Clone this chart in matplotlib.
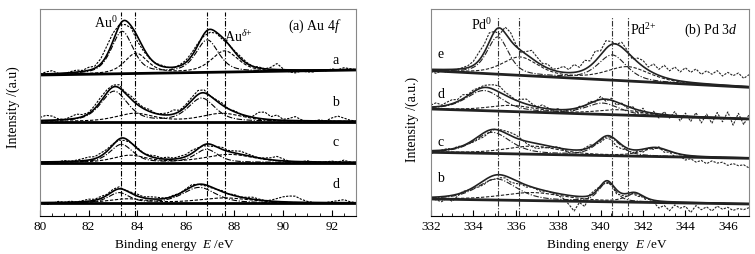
import numpy as np
import matplotlib
matplotlib.use("Agg")
import matplotlib.pyplot as plt
from matplotlib.ticker import MultipleLocator

plt.rcParams['font.family'] = ['Liberation Serif', 'DejaVu Serif']
plt.rcParams['mathtext.fontset'] = 'custom'
plt.rcParams['mathtext.rm'] = 'Liberation Serif'
plt.rcParams['mathtext.it'] = 'Liberation Serif:italic'
plt.rcParams['mathtext.bf'] = 'Liberation Serif:bold'

# ---------------- (a) Au 4f ----------------
au_labels = ['a', 'b', 'c', 'd']
au_label_y = [157, 115, 74, 32]
au_base_lo = [141, 94.5, 53.5, 13]     # background at 80 eV
au_base_hi = [146, 94.5, 53.5, 13]     # background at 93 eV
# Au0 doublet (dash-dot components)
au0_pos = [[83.38, 86.88], [83.05, 86.65], [83.35, 86.85], [83.25, 86.55]]
au0_height = [[42, 32], [30, 23], [18, 13], [10, 15.5]]
au0_fwhm = [[1.05, 1.1], [1.3, 1.3], [1.1, 1.1], [1.0, 1.6]]
# Au delta+ doublet (dashed components)
audp_pos = [[83.95, 87.6], [83.9, 87.5], [83.7, 87.8], [83.6, 87.6]]
audp_height = [[20, 21], [8, 8], [7, 8], [4, 5]]
audp_fwhm = [[1.1, 1.3], [1.8, 2.0], [1.6, 2.4], [1.8, 2.5]]
au_lines = [83.35, 83.9, 86.85, 87.6]

# raw spectra, deviation from the fit, 80 .. 93 eV every 0.25 eV
au_raw_e = np.arange(80, 93.001, 0.25)
au_resid = [
    [0, 2, 3, 0, -1, 1, 2, 1, 3, 2, 5, 9, 8, 1, -4, -2, -5, -3, -1, 0, 1, 0, -1, 1, 2, 3, 2,
     -2, -3, -1, -2, 0, 1, 2, 1, 0, 1, 0, 2, 6, 1, -2, -3, -1, -2, -2, 0, -1, 1, 0, 2, 1, 0],
    [3, 5, 4, 1, 0, 2, 4, 2, 1, 3, 4, 3, 2, 3, 1, 3, 2, 1, 2, 0, 1, 2, 4, 1, 2, 3, 4,
     3, 0, 1, 2, 0, 1, 0, -1, 1, 6, 7, 3, 5, 1, 2, 4, 1, -1, 0, 1, 0, 3, 5, 3, 1, 0],
    [0, -2, -1, 0, 1, 0, 1, 2, 3, 2, 3, 2, 1, -1, -2, 0, 1, 0, 1, 2, 1, 2, 1, 2, 2, 3, 1,
     -1, -2, 0, 2, 1, 2, 3, 2, 1, 0, 1, 2, 4, 2, 0, -1, 0, 1, 0, -1, 0, 1, 0, 2, 0, -2],
    [0, -2, -1, 1, 0, 1, 0, 1, 2, 1, 2, 1, 2, 2, 0, 1, 2, 1, 2, 2, 1, 0, 1, 0, 1, 2, 0,
     -1, -1, 0, 1, 0, 1, 0, 1, 2, 1, 0, 1, 3, 5, 6, 6, 3, 1, 0, -1, 0, 1, 2, 3, 1, 0],
]

# ---------------- (b) Pd 3d ----------------
pd_labels = ['e', 'd', 'c', 'b']
pd_label_y = [162, 123, 75, 39]
pd_base_lo = [145.3, 107, 63.7, 17]    # background at 332 eV
pd_base_hi = [128.7, 97, 57.7, 12]     # background at 347 eV
pd0_pos = [[335.15, 340.55], [334.5, 340.1], [334.9, 340.35], [335.1, 340.3]]
pd0_height = [[37, 25], [20, 11], [21, 18.5], [21, 19]]
pd0_fwhm = [[1.2, 1.6], [2.0, 1.8], [2.0, 1.3], [2.2, 0.9]]
pd2_pos = [[336.2, 341.3], [335.8, 340.9], [336.8, 342.6], [336.8, 341.6]]
pd2_height = [[18, 14], [6, 5], [8, 8], [8, 8]]
pd2_fwhm = [[2.0, 2.4], [2.6, 2.5], [3.0, 1.6], [3.5, 1.0]]
pd_lines = [335.15, 336.15, 340.55, 341.3]

pd_raw_e = np.arange(332, 347.001, 0.25)
pd_resid = [
    [-2, -4, -1, -3, -1, 0, 1, 2, 4, 8, 8, 9, 0, -6, 6, 8, 2, -2, 3, 8, 5, 2, 4, 1, 3, 6, 3, 8, 4, 9, 5,
     10, 4, 8, 3, 0, 5, 2, -2, 4, 6, 3, 9, 6, 12, 8, 13, 9, 14, 10, 14, 9, 13, 10, 14, 9, 13, 10, 13, 8, 12],
    [2, 4, 1, 3, 4, 2, 4, 1, 2, 1, 2, 3, 5, 6, 3, 2, 0, 3, 5, 2, 0, 3, 1, -1, 1, -2, 0, -2, 1, -1, 2,
     -1, 3, -2, 2, -3, 1, -2, 2, -3, 3, -4, 2, -4, 3, -3, 4, -5, 3, -5, 4, -6, 3, -6, 5, -4, 6, -7, 5, -6, 4],
    [-3, -1, 0, 1, 0, 1, 0, -1, -2, -3, -4, -2, 0, 1, 2, 3, 3, 1, -2, -4, -5, -3, -2, 0, 1, -1, -3, -5, -2, 1, 2,
     -1, -3, -2, -3, -6, -4, -2, -3, -1, -3, 0, -2, 1, -3, -1, -4, -2, -5, -3, -6, -4, -7, -4, -6, -5, -8, -6, -8, -7, -10],
    [-1, -3, -5, -2, -6, -2, 1, 0, -1, -3, -4, -3, -4, -3, -2, -4, -3, -1, -2, 0, -1, -2, 0, -1, -2, -4, -9, -15, -6, -10, 1,
     2, 0, -2, -1, -4, -2, -3, -1, -3, -1, -4, -2, -7, -4, -9, -3, -6, -4, -10, -3, -7, -4, -8, -3, -6, -4, -7, -5, -6, -4],
]


def peak(x, c, h, w, m=0.5):
    d = ((x - c) / w) ** 2
    return h * (m / (1 + 4 * d) + (1 - m) * np.exp(-4 * np.log(2) * d))


def draw_panel(ax, xlim, base_lo, base_hi, p1, h1, w1, p2, h2, w2, raw_e, resid, col):
    xs = np.linspace(xlim[0], xlim[1], 800)
    for k in range(len(base_lo)):
        def bg(x):
            return base_lo[k] + (base_hi[k] - base_lo[k]) * (x - xlim[0]) / (xlim[1] - xlim[0])

        def comps(x):
            c1 = sum(peak(x, p1[k][j], h1[k][j], w1[k][j]) for j in range(2))
            c2 = sum(peak(x, p2[k][j], h2[k][j], w2[k][j]) for j in range(2))
            return c1, c2

        c1, c2 = comps(xs)
        ax.plot(xs, bg(xs), color=col, lw=2.0)
        ax.plot(xs, bg(xs) + c1, color=col, lw=0.8, ls=(0, (5, 1.5, 1, 1.5)))
        ax.plot(xs, bg(xs) + c2, color=col, lw=0.8, ls=(0, (3, 1.5)))
        ax.plot(xs, bg(xs) + c1 + c2, color=col, lw=1.2)
        r1, r2 = comps(raw_e)
        ax.plot(raw_e, bg(raw_e) + r1 + r2 + np.array(resid[k]), color=col, lw=0.8,
                ls=(0, (2, 1.2)))


fig = plt.figure(figsize=(7.55, 2.55), dpi=100)
ax1 = fig.add_axes([40 / 755, 38 / 255, 316 / 755, 207 / 255])
ax2 = fig.add_axes([431 / 755, 38 / 255, 318 / 755, 207 / 255])

draw_panel(ax1, (80, 93), au_base_lo, au_base_hi, au0_pos, au0_height, au0_fwhm,
           audp_pos, audp_height, audp_fwhm, au_raw_e, au_resid, 'black')
draw_panel(ax2, (332, 347), pd_base_lo, pd_base_hi, pd0_pos, pd0_height, pd0_fwhm,
           pd2_pos, pd2_height, pd2_fwhm, pd_raw_e, pd_resid, '#222222')

for x in au_lines:
    ax1.vlines(x, 0, 204, color='black', lw=0.8, ls=(0, (5, 1.5, 1, 1.5)))
for x in pd_lines:
    ax2.vlines(x, 0, 199, color='#333333', lw=0.8, ls=(0, (5, 1.5, 1, 1.5)))

ax1.text(82.71, 194, r'Au$^{0}$', fontsize=10, ha='center', va='center')
ax1.text(88.16, 180, r'Au$^{\delta{+}}$', fontsize=10, ha='center', va='center')
ax1.text(91.3, 191, r'(a) Au 4$f$', fontsize=10, ha='center', va='center')
for lab, y in zip(au_labels, au_label_y):
    ax1.text(92.17, y, lab, fontsize=10, ha='center', va='center')

ax2.text(334.41, 192, r'Pd$^{0}$', fontsize=10, ha='center', va='center')
ax2.text(342.0, 187, r'Pd$^{2{+}}$', fontsize=10, ha='center', va='center')
ax2.text(345.2, 187, r'(b) Pd 3$d$', fontsize=10, ha='center', va='center')
for lab, y in zip(pd_labels, pd_label_y):
    ax2.text(332.45, y, lab, fontsize=10, ha='center', va='center')

for ax, xl in ((ax1, (80, 93)), (ax2, (332, 347))):
    ax.set_xlim(*xl)
    ax.set_ylim(0, 207)
    ax.set_yticks([])
    ax.xaxis.set_major_locator(MultipleLocator(2))
    ax.xaxis.set_minor_locator(MultipleLocator(0.5))
    ax.tick_params(axis='x', which='both', direction='in', labelsize=9.5, pad=3)
    ax.tick_params(axis='x', which='major', length=4)
    ax.tick_params(axis='x', which='minor', length=2)
    for s in ax.spines.values():
        s.set_color('#888888')
        s.set_linewidth(0.8)
    ax.spines['bottom'].set_color('black')

fig.text(13 / 755, 1 - 107 / 255, 'Intensity /(a.u)', rotation=90, fontsize=10,
         ha='center', va='center')
fig.text(412 / 755, 1 - 119 / 255, 'Intensity /(a.u.)', rotation=90, fontsize=10,
         ha='center', va='center')
# x labels: "Binding energy" and "E /eV" as two pieces
fig.text(115 / 755, 1 - 245 / 255, 'Binding energy', fontsize=9.5, ha='left', va='center')
fig.text(235 / 755, 1 - 245 / 255, r'$E$ /eV', fontsize=9.5, ha='right', va='center')
fig.text(547 / 755, 1 - 245 / 255, 'Binding energy', fontsize=9.5, ha='left', va='center')
fig.text(668 / 755, 1 - 245 / 255, r'$E$ /eV', fontsize=9.5, ha='right', va='center')

fig.savefig('out.png', dpi=100)
